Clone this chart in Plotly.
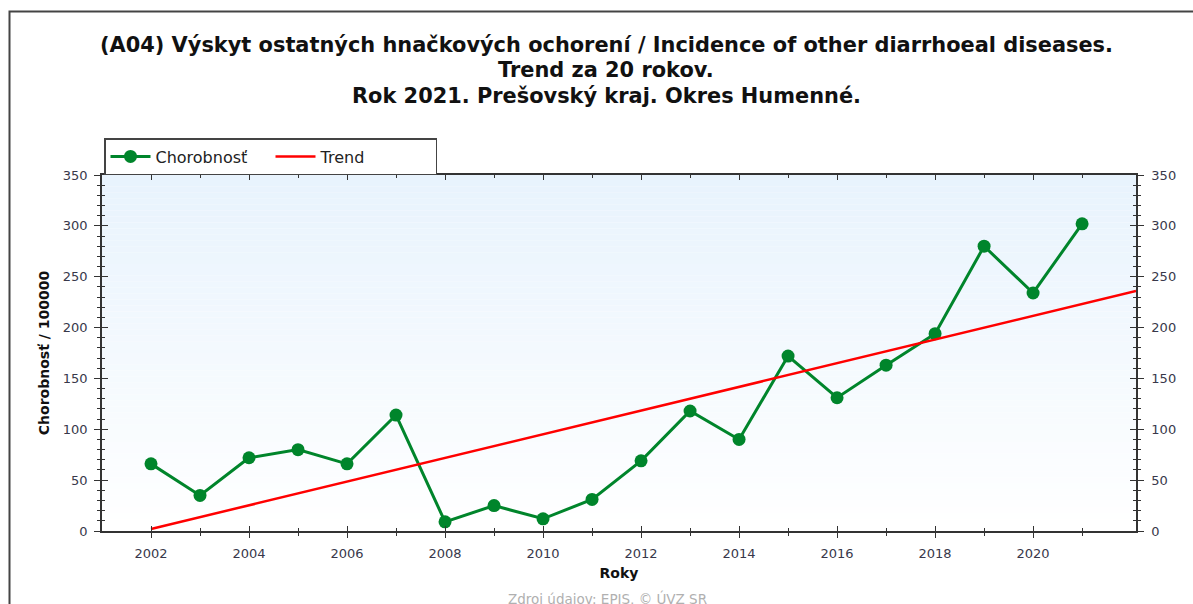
import plotly.graph_objects as go

years = [2002, 2003, 2004, 2005, 2006, 2007, 2008, 2009, 2010, 2011,
         2012, 2013, 2014, 2015, 2016, 2017, 2018, 2019, 2020, 2021]
chorobnost = [66, 35, 72, 80, 66, 114, 9, 25, 12, 31,
              69, 118, 90, 172, 131, 163, 194, 280, 234, 302]
trend_x = [2002, 2022.1]
trend_y = [2, 236]

title_lines = [
    "(A04) Výskyt ostatných hnačkových ochorení / Incidence of other diarrhoeal diseases.",
    "Trend za 20 rokov.",
    "Rok 2021. Prešovský kraj. Okres Humenné.",
]
y_title = "Chorobnosť / 100000"
x_title = "Roky"
source = "Zdroj údajov: EPIS, © ÚVZ SR"
header = "Graf č. III.1.7 – A04"

W, H = 1193, 604
L, R, T, B = 102, 1136, 175, 531


def px(x):
    return (x - L) / (R - L)


def py(y):
    return (B - y) / (B - T)


FONT = "DejaVu Sans, Liberation Sans, Arial, sans-serif"
GREEN = "#00852b"

fig = go.Figure()
fig.add_trace(go.Scatter(
    x=years, y=chorobnost, name="Chorobnosť", mode="lines+markers",
    line=dict(color=GREEN, width=3),
    marker=dict(color=GREEN, size=13, symbol="circle"),
))
fig.add_trace(go.Scatter(
    x=trend_x, y=trend_y, name="Trend", mode="lines",
    line=dict(color="#ff0000", width=2.5),
))

# gradient background bands
shapes = []
n = 60
top = (232, 243, 253)
bot = (255, 255, 255)
for i in range(n):
    t = i / (n - 1)
    c = tuple(round(bot[k] + (top[k] - bot[k]) * t) for k in range(3))
    shapes.append(dict(type="rect", xref="paper", yref="paper",
                       x0=0, x1=1, y0=i / n, y1=(i + 1) / n,
                       fillcolor="rgb(%d,%d,%d)" % c, line=dict(width=0),
                       layer="below"))
# outer frame
shapes.append(dict(type="rect", xref="paper", yref="paper",
                   x0=px(9.5), x1=px(1210), y0=py(11.5), y1=py(640),
                   line=dict(color="#444444", width=2), fillcolor="rgba(0,0,0,0)",
                   layer="above"))

annotations = []
for txt, yc in zip(title_lines, [45, 70, 96]):
    annotations.append(dict(text="<b>%s</b>" % txt, x=px(606), y=py(yc),
                            xref="paper", yref="paper", showarrow=False,
                            xanchor="center", yanchor="middle",
                            font=dict(family=FONT, size=20.9, color="#111111")))
annotations.append(dict(text=source, x=px(607), y=py(598.5), xref="paper", yref="paper",
                        showarrow=False, xanchor="center", yanchor="middle",
                        font=dict(family=FONT, size=13.5, color="#b0b0b0")))
annotations.append(dict(text="<b>%s</b>" % header, x=px(10), y=py(-7), xref="paper",
                        yref="paper", showarrow=False, xanchor="left", yanchor="middle",
                        font=dict(family="Liberation Serif, Times New Roman, serif",
                                  size=20, color="#111111")))

tickfont = dict(family=FONT, size=13, color="#38384a")
xr = [2001.0, 2022.1]
yr = [0, 350]

fig.update_layout(
    width=W, height=H,
    margin=dict(l=L, r=W - R, t=T, b=H - B, pad=0, autoexpand=False),
    paper_bgcolor="white", plot_bgcolor="rgba(0,0,0,0)",
    showlegend=True,
    legend=dict(orientation="h", x=px(104), y=py(138), xanchor="left", yanchor="top",
                bgcolor="white", bordercolor="#444444", borderwidth=1.5,
                font=dict(family=FONT, size=16, color="#222222"),
                entrywidth=110, entrywidthmode="pixels", tracegroupgap=0,
                itemwidth=40),
    xaxis=dict(range=xr, tickmode="array", tickvals=list(range(2002, 2022, 2)),
               ticks="outside", ticklen=5, tickwidth=1, tickcolor="#333",
               showline=True, linecolor="#333", linewidth=1.5, mirror=True,
               showgrid=False, zeroline=False, tickfont=tickfont,
               ticklabelstandoff=5,
               minor=dict(tickvals=list(range(2003, 2022, 2)), ticks="outside",
                          ticklen=3, tickcolor="#333", showgrid=False),
               title=dict(text="<b>%s</b>" % x_title, standoff=8,
                          font=dict(family=FONT, size=14, color="#111"))),
    xaxis2=dict(range=xr, overlaying="x", tickmode="array",
                tickvals=list(range(2002, 2022, 2)), ticks="inside", ticklen=5,
                tickcolor="#333", showticklabels=False, showgrid=False,
                zeroline=False, showline=False, mirror="ticks",
                minor=dict(tickvals=list(range(2003, 2022, 2)), ticks="inside",
                           ticklen=3, tickcolor="#333", showgrid=False)),
    yaxis=dict(range=yr, dtick=50, ticks="outside", ticklen=6, tickcolor="#333",
               showline=True, linecolor="#333", linewidth=1.5, showgrid=False,
               zeroline=False, tickfont=tickfont, ticklabelstandoff=4,
               minor=dict(dtick=10, ticks="outside", ticklen=3, tickcolor="#333",
                          showgrid=False),
               title=dict(text="<b>%s</b>" % y_title, standoff=10,
                          font=dict(family=FONT, size=14, color="#111"))),
    yaxis2=dict(range=yr, dtick=50, overlaying="y", side="right", ticks="outside",
                ticklen=6, tickcolor="#333", showline=True, linecolor="#333",
                linewidth=1.5, showgrid=False, zeroline=False, tickfont=tickfont,
                ticklabelstandoff=5,
                minor=dict(dtick=10, ticks="outside", ticklen=3, tickcolor="#333",
                           showgrid=False)),
    yaxis3=dict(range=yr, dtick=50, overlaying="y", side="left", ticks="inside",
                ticklen=6, tickcolor="#333", showticklabels=False, showgrid=False,
                zeroline=False, showline=False,
                minor=dict(dtick=10, ticks="inside", ticklen=3, tickcolor="#333",
                           showgrid=False)),
    yaxis4=dict(range=yr, dtick=50, overlaying="y", side="right", ticks="inside",
                ticklen=6, tickcolor="#333", showticklabels=False, showgrid=False,
                zeroline=False, showline=False,
                minor=dict(dtick=10, ticks="inside", ticklen=3, tickcolor="#333",
                           showgrid=False)),
    shapes=shapes,
    annotations=annotations,
)

# empty helper traces so overlay axes are rendered
fig.add_trace(go.Scatter(x=[], y=[], xaxis="x2", yaxis="y3", showlegend=False,
                         hoverinfo="skip"))
fig.add_trace(go.Scatter(x=[], y=[], xaxis="x", yaxis="y2", showlegend=False,
                         hoverinfo="skip"))
fig.add_trace(go.Scatter(x=[], y=[], xaxis="x", yaxis="y4", showlegend=False,
                         hoverinfo="skip"))

fig.write_html("out.html",
               config={"displayModeBar": False},
               post_script="document.body.style.margin='0';"
                           "document.body.style.overflow='hidden';")
